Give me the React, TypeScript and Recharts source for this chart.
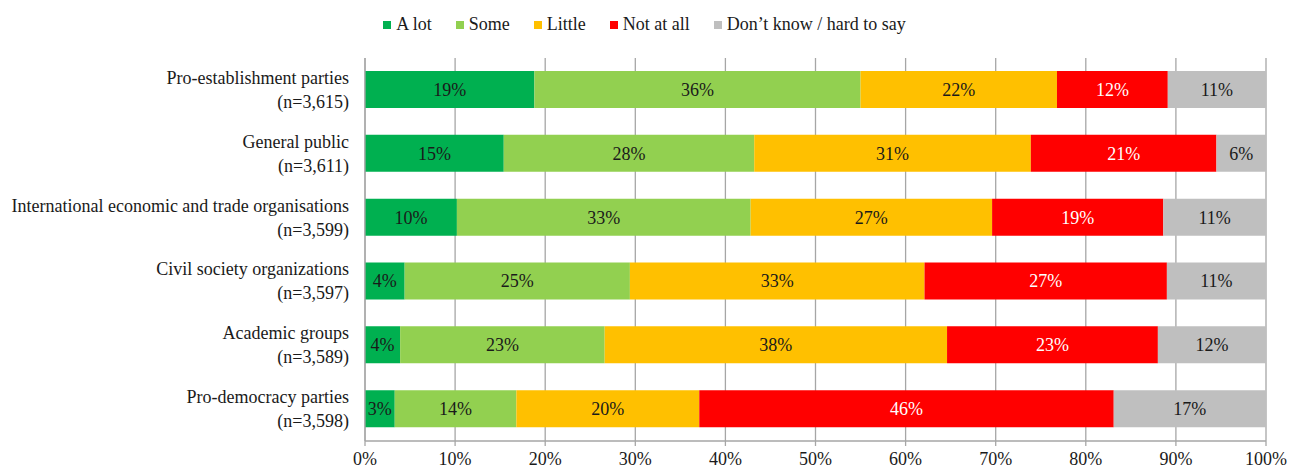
import { BarChart, Bar, XAxis, YAxis, CartesianGrid, Legend, LabelList } from 'recharts'

// ── Data ──────────────────────────────────────────────────────────────────────

const groups = [
  'Pro-establishment parties',
  'General public',
  'International economic and trade organisations',
  'Civil society organizations',
  'Academic groups',
  'Pro-democracy parties',
]
const sampleSizes = ['3,615', '3,611', '3,599', '3,597', '3,589', '3,598']

const aLot     = [18.8, 15.4, 10.2, 4.4, 3.9, 3.3]
const some     = [36.2, 27.8, 32.6, 25.0, 22.7, 13.5]
const little   = [21.8, 30.7, 26.8, 32.7, 38.0, 20.3]
const notAtAll = [12.3, 20.6, 19.0, 26.9, 23.4, 46.0]
const dontKnow = [10.9, 5.5, 11.4, 11.0, 12.0, 16.9]

const xTicks = [0, 10, 20, 30, 40, 50, 60, 70, 80, 90, 100]

const SERIES = [
  { key: 'aLot',     name: 'A lot',                    color: '#00B050', text: '#1a1a1a' },
  { key: 'some',     name: 'Some',                     color: '#92D050', text: '#1a1a1a' },
  { key: 'little',   name: 'Little',                   color: '#FFC000', text: '#1a1a1a' },
  { key: 'notAtAll', name: 'Not at all',               color: '#FF0000', text: '#ffffff' },
  { key: 'dontKnow', name: 'Don\u2019t know / hard to say', color: '#BFBFBF', text: '#1a1a1a' },
]

const data = groups.map((g, i) => ({
  group: g,
  n: sampleSizes[i],
  aLot: aLot[i],
  some: some[i],
  little: little[i],
  notAtAll: notAtAll[i],
  dontKnow: dontKnow[i],
}))

// ── Styles ────────────────────────────────────────────────────────────────────

const FONT = '"Liberation Serif", "Times New Roman", serif'
const GRID = '#A6A6A6'
const TEXT = '#1a1a1a'

function GroupTick({ x, y, payload, index }: any) {
  const n = data[index]?.n ?? ''
  return (
    <text x={x} y={y} textAnchor="end" fontFamily={FONT} fontSize={18} fill={TEXT}>
      <tspan x={x} dy={-6}>{payload.value}</tspan>
      <tspan x={x} dy={24}>(n={n})</tspan>
    </text>
  )
}

function LegendBox() {
  return (
    <div style={{ display: 'flex', justifyContent: 'center', gap: 24, fontFamily: FONT, fontSize: 18, color: TEXT, lineHeight: '21px' }}>
      {SERIES.map(s => (
        <span key={s.key} style={{ display: 'flex', alignItems: 'center' }}>
          <span style={{ width: 8, height: 8, background: s.color, marginRight: 5, display: 'inline-block' }} />
          {s.name}
        </span>
      ))}
    </div>
  )
}

export default function App() {
  return (
    <div style={{ position: 'absolute', left: 0, top: 0, background: '#fff' }}>
      <BarChart
        width={1289}
        height={470}
        data={data}
        layout="vertical"
        margin={{ top: 37, right: 23, bottom: 0, left: 0 }}
        barSize={37}
      >
        <CartesianGrid horizontal={false} stroke={GRID} strokeWidth={1.3} />
        <XAxis
          type="number"
          domain={[0, 100]}
          ticks={xTicks}
          tickFormatter={v => `${v}%`}
          axisLine={{ stroke: GRID, strokeWidth: 1.3 }}
          tickLine={{ stroke: GRID, strokeWidth: 1.3 }}
          tickSize={5}
          tickMargin={6}
          height={29}
          tick={{ fontFamily: FONT, fontSize: 18, fill: TEXT }}
          interval={0}
        />
        <YAxis
          type="category"
          dataKey="group"
          width={365}
          axisLine={{ stroke: GRID, strokeWidth: 1.3 }}
          tickLine={false}
          tickSize={0}
          tickMargin={16}
          tick={<GroupTick />}
          interval={0}
        />
        <Legend verticalAlign="top" wrapperStyle={{ top: 14, left: 0, width: 1289 }} content={() => <LegendBox />} />
        {SERIES.map(s => (
          <Bar key={s.key} dataKey={s.key} name={s.name} stackId="a" fill={s.color} isAnimationActive={false}>
            <LabelList
              dataKey={s.key}
              position="center"
              formatter={(v: any) => `${Math.round(v)}%`}
              style={{ fontFamily: FONT, fontSize: 18, fill: s.text }}
            />
          </Bar>
        ))}
      </BarChart>
    </div>
  )
}
